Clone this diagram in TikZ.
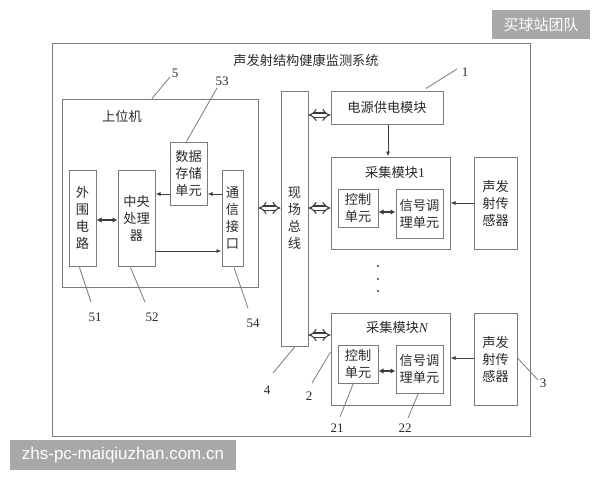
\documentclass[tikz,border=0pt]{standalone}
\usepackage{fontspec}
\setmainfont{Liberation Serif}
\newfontfamily\cjk{Noto Sans CJK SC}
\newfontfamily\wmfont{Liberation Sans}
\usetikzlibrary{arrows.meta}
\definecolor{linegray}{HTML}{7A7A7A}
\definecolor{arrgray}{HTML}{3C3C3C}
\definecolor{txt}{HTML}{2A2A2A}
\definecolor{wmgray}{HTML}{A8A8A8}
\begin{document}
\begin{tikzpicture}[x=1pt,y=-1pt,
 box/.style={draw=linegray, line width=1pt, inner sep=0pt, text=txt,
   font=\cjk\fontsize{13.2}{17}\selectfont, align=center},
 lbl/.style={text=txt, font=\cjk\fontsize{13.2}{15}\selectfont, inner sep=0pt},
 lead/.style={draw=linegray, line width=0.8pt},
 num/.style={text=txt, font=\fontsize{13}{15}\selectfont, inner sep=0pt},
 arr/.style={draw=arrgray, line width=0.9pt, -{Latex[length=5pt,width=4pt]}},
 darr/.style={draw=arrgray, line width=1.5pt, {Latex[length=5pt,width=5.5pt]}-{Latex[length=5pt,width=5.5pt]}},
 hol/.style={draw=arrgray, double=white, double distance=3pt, line width=1.1pt, {Implies}-{Implies}},
 dot/.style={circle, fill=arrgray, inner sep=0pt, minimum size=2.4pt},
 wm/.style={fill=wmgray, text=white, inner sep=0pt, anchor=center}
]
\useasboundingbox (0,0) rectangle (600,480);

% outer system box
\node[box, minimum width=478pt, minimum height=393pt] (sys) at (291,239.5) {};
\node[lbl] (title) at (306,60) {声发射结构健康监测系统};

% host computer
\node[box, minimum width=196pt, minimum height=188pt] (host) at (160,193) {};
\node[lbl] (hosttxt) at (122,116) {上位机};
\node[box, minimum width=27pt, minimum height=96pt] (peri) at (82.5,218) {外\\围\\电\\路};
\node[box, minimum width=37pt, minimum height=96pt] (cpu) at (136.5,218) {中央\\处理\\器};
\node[box, minimum width=37pt, minimum height=63pt] (store) at (188.5,173.5) {数据\\存储\\单元};
\node[box, minimum width=21pt, minimum height=96pt] (comm) at (232.5,218) {通\\信\\接\\口};

% field bus
\node[box, minimum width=27pt, minimum height=255pt] (bus) at (294.5,218.5) {现\\场\\总\\线};

% power
\node[box, minimum width=112pt, minimum height=33pt] (power) at (387,107.5) {电源供电模块};

% acquisition module 1
\node[box, minimum width=119pt, minimum height=92pt] (acqA) at (390.5,203) {};
\node[lbl] (acqAtxt) at (395,172) {采集模块\fontsize{13.5}{15}\selectfont\rmfamily 1};
\node[box, minimum width=40pt, minimum height=38pt] (ctrlA) at (358,208) {控制\\单元};
\node[box, minimum width=47pt, minimum height=49pt] (sigA) at (419.5,213.5) {信号调\\理单元};
\node[box, minimum width=43pt, minimum height=92pt] (sensA) at (495.5,203) {声发\\射传\\感器};

% acquisition module N
\node[box, minimum width=119pt, minimum height=92pt] (acqN) at (390.5,359) {};
\node[lbl] (acqNtxt) at (397,327) {采集模块\fontsize{13.5}{15}\selectfont\rmfamily\itshape N};
\node[box, minimum width=40pt, minimum height=38pt] (ctrlN) at (358,364) {控制\\单元};
\node[box, minimum width=47pt, minimum height=48pt] (sigN) at (419.5,369) {信号调\\理单元};
\node[box, minimum width=43pt, minimum height=92pt] (sensN) at (495.5,359) {声发\\射传\\感器};

% dots
\node[dot] (d1) at (378,266) {};
\node[dot] (d2) at (378,279) {};
\node[dot] (d3) at (378,291) {};

% level coordinates
\coordinate (y194) at (0,194);
\coordinate (y220) at (0,220);
\coordinate (y251) at (0,251);
\coordinate (y208) at (0,208);
\coordinate (y115) at (0,115);
\coordinate (y335) at (0,335);
\coordinate (y212) at (0,212);
\coordinate (y203) at (0,203);
\coordinate (y371) at (0,371);
\coordinate (y358) at (0,358);
\coordinate (x388) at (388,0);

% host internal arrows
\draw[darr] (peri.east |- y220) -- (cpu.west |- y220);
\draw[arr] (store.west |- y194) -- (cpu.east |- y194);
\draw[arr] (comm.west |- y194) -- (store.east |- y194);
\draw[arr] (cpu.east |- y251) -- (comm.west |- y251);

% bus connections
\draw[hol] (host.east |- y208) -- (bus.west |- y208);
\draw[hol] (bus.east |- y115) -- (power.west |- y115);
\draw[hol] (bus.east |- y208) -- (acqA.west |- y208);
\draw[hol] (bus.east |- y335) -- (acqN.west |- y335);

% power to module
\draw[arr] (power.south -| x388) -- (acqA.north -| x388);

% module internal
\draw[darr] (ctrlA.east |- y212) -- (sigA.west |- y212);
\draw[arr] (sensA.west |- y203) -- (acqA.east |- y203);
\draw[darr] (ctrlN.east |- y371) -- (sigN.west |- y371);
\draw[arr] (sensN.west |- y358) -- (acqN.east |- y358);

% reference numbers
\coordinate (l5) at (170,77);   \node[num] (n5) at (175,73) {5};
\coordinate (l53) at (217,88);  \node[num] (n53) at (222,81) {53};
\coordinate (l51) at (91,302);  \node[num] (n51) at (95,317) {51};
\coordinate (l52) at (145,302); \node[num] (n52) at (152,317) {52};
\coordinate (l54) at (248,308); \node[num] (n54) at (253,323) {54};
\coordinate (l1) at (457,69);   \node[num] (n1) at (465,72) {1};
\coordinate (l4) at (273,373);  \node[num] (n4) at (267,390) {4};
\coordinate (l2) at (312,383);  \node[num] (n2) at (309,396) {2};
\coordinate (l3) at (538,380);  \node[num] (n3) at (543,383) {3};
\coordinate (l21) at (340,417); \node[num] (n21) at (337,428) {21};
\coordinate (l22) at (408,418); \node[num] (n22) at (405,428) {22};

\draw[lead] (host.north) ++(-8,0) coordinate (s5) -- (l5);
\draw[lead] (store.north) ++(-2,0) coordinate (s53) -- (l53);
\draw[lead] (peri.south) ++(-3,1) coordinate (s51) -- (l51);
\draw[lead] (cpu.south) ++(-6,1) coordinate (s52) -- (l52);
\draw[lead] (comm.south) ++(1.5,1) coordinate (s54) -- (l54);
\draw[lead] (power.north) ++(39,-2) coordinate (s1) -- (l1);
\draw[lead] (bus.south) ++(0.5,0) coordinate (s4) -- (l4);
\draw[lead] (acqN.west) ++(0,-7) coordinate (s2) -- (l2);
\draw[lead] (sensN.east |- y358) -- (l3);
\draw[lead] (ctrlN.south) ++(-4.7,0) coordinate (s21) -- (l21);
\draw[lead] (sigN.south) ++(-1.2,0) coordinate (s22) -- (l22);

% watermarks
\node[wm, minimum width=98pt, minimum height=29pt, font=\cjk\fontsize{15}{17}\selectfont] (wm1) at (541,24.5) {买球站团队};
\node[wm, minimum width=226pt, minimum height=30pt, font=\wmfont\fontsize{17}{19}\selectfont] (wm2) at (123,455) {zhs-pc-maiqiuzhan.com.cn};
\end{tikzpicture}
\end{document}
